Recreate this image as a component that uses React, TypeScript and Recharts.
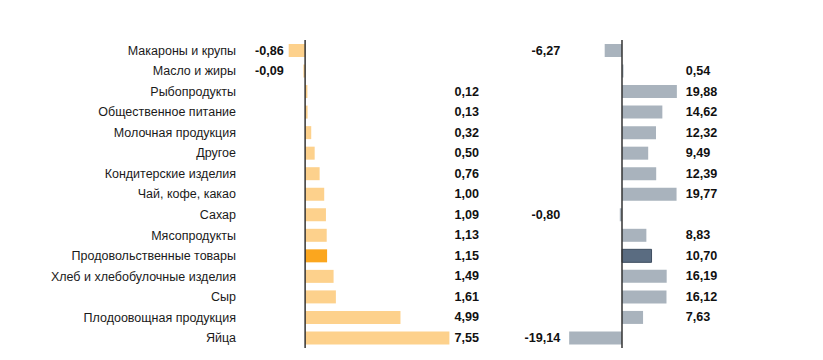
import { BarChart, Bar, XAxis, YAxis, Cell, LabelList, ReferenceLine } from "recharts"

const categories = [
  "Макароны и крупы",
  "Масло и жиры",
  "Рыбопродукты",
  "Общественное питание",
  "Молочная продукция",
  "Другое",
  "Кондитерские изделия",
  "Чай, кофе, какао",
  "Сахар",
  "Мясопродукты",
  "Продовольственные товары",
  "Хлеб и хлебобулочные изделия",
  "Сыр",
  "Плодоовощная продукция",
  "Яйца",
]

const leftValues = [-0.86, -0.09, 0.12, 0.13, 0.32, 0.5, 0.76, 1.0, 1.09, 1.13, 1.15, 1.49, 1.61, 4.99, 7.55]
const rightValues = [-6.27, 0.54, 19.88, 14.62, 12.32, 9.49, 12.39, 19.77, -0.8, 8.83, 10.7, 16.19, 16.12, 7.63, -19.14]

const HIGHLIGHT = "Продовольственные товары"

const FONT = "'Liberation Sans', Arial, sans-serif"

const fmt = (v: number) => v.toFixed(2).replace(".", ",")

type PanelProps = {
  values: number[]
  domain: [number, number]
  plotLeft: number
  plotWidth: number
  gap: number
  color: string
  highlight: string
  highlightStroke?: string
  showCategories?: boolean
}

function Panel({ values, domain, plotLeft, plotWidth, gap, color, highlight, highlightStroke, showCategories }: PanelProps) {
  const data = categories.map((name, i) => ({ name, value: values[i] }))
  const scale = (v: number) => plotLeft + ((v - domain[0]) / (domain[1] - domain[0])) * plotWidth
  const posX = scale(Math.max(...values)) + gap
  const negX = scale(Math.min(...values)) - gap

  // value labels sit in two columns, just outside the longest bars
  // eslint-disable-next-line @typescript-eslint/no-explicit-any
  const renderLabel = (props: any) => {
    const v = Number(props.value)
    const y = Number(props.y) + Number(props.height) / 2
    return (
      <text
        x={v < 0 ? negX : posX}
        y={y}
        textAnchor={v < 0 ? "end" : "start"}
        dominantBaseline="central"
        fontFamily={FONT}
        fontSize={12.6}
        fontWeight="bold"
        fill="#111"
      >
        {fmt(v)}
      </text>
    )
  }

  const width = 823
  return (
    <div style={{ position: "absolute", left: 0, top: 0 }}>
      <BarChart
        width={width}
        height={360}
        data={data}
        layout="vertical"
        margin={{ top: 40, right: width - plotLeft - plotWidth, bottom: 12, left: showCategories ? 0 : plotLeft }}
        barSize={13}
      >
        <XAxis type="number" domain={domain} hide />
        {showCategories ? (
          <YAxis
            type="category"
            dataKey="name"
            width={plotLeft}
            axisLine={false}
            tickLine={false}
            tickMargin={44}
            interval={0}
            tick={{ fontFamily: FONT, fontSize: 12.5, fill: "#1a1a1a" }}
          />
        ) : (
          <YAxis type="category" dataKey="name" hide />
        )}
        <Bar dataKey="value" isAnimationActive={false}>
          {data.map((d) => (
            <Cell
              key={d.name}
              fill={d.name === HIGHLIGHT ? highlight : color}
              stroke={d.name === HIGHLIGHT && highlightStroke ? highlightStroke : "none"}
            />
          ))}
          <LabelList dataKey="value" content={renderLabel} />
        </Bar>
        <ReferenceLine x={0} stroke="#333" strokeWidth={1.5} />
      </BarChart>
    </div>
  )
}

export default function App() {
  return (
    <div style={{ position: "absolute", left: 0, top: 0, width: 823, height: 360, background: "#fff", overflow: "hidden" }}>
      <Panel
        values={leftValues}
        domain={[-1, 8]}
        plotLeft={286}
        plotWidth={172}
        gap={5}
        color="#FDD18C"
        highlight="#FBA61E"
        showCategories
      />
      <Panel
        values={rightValues}
        domain={[-25, 25]}
        plotLeft={553}
        plotWidth={138}
        gap={9}
        color="#A9B3BD"
        highlight="#5A6C81"
        highlightStroke="#3E4D60"
      />
    </div>
  )
}
